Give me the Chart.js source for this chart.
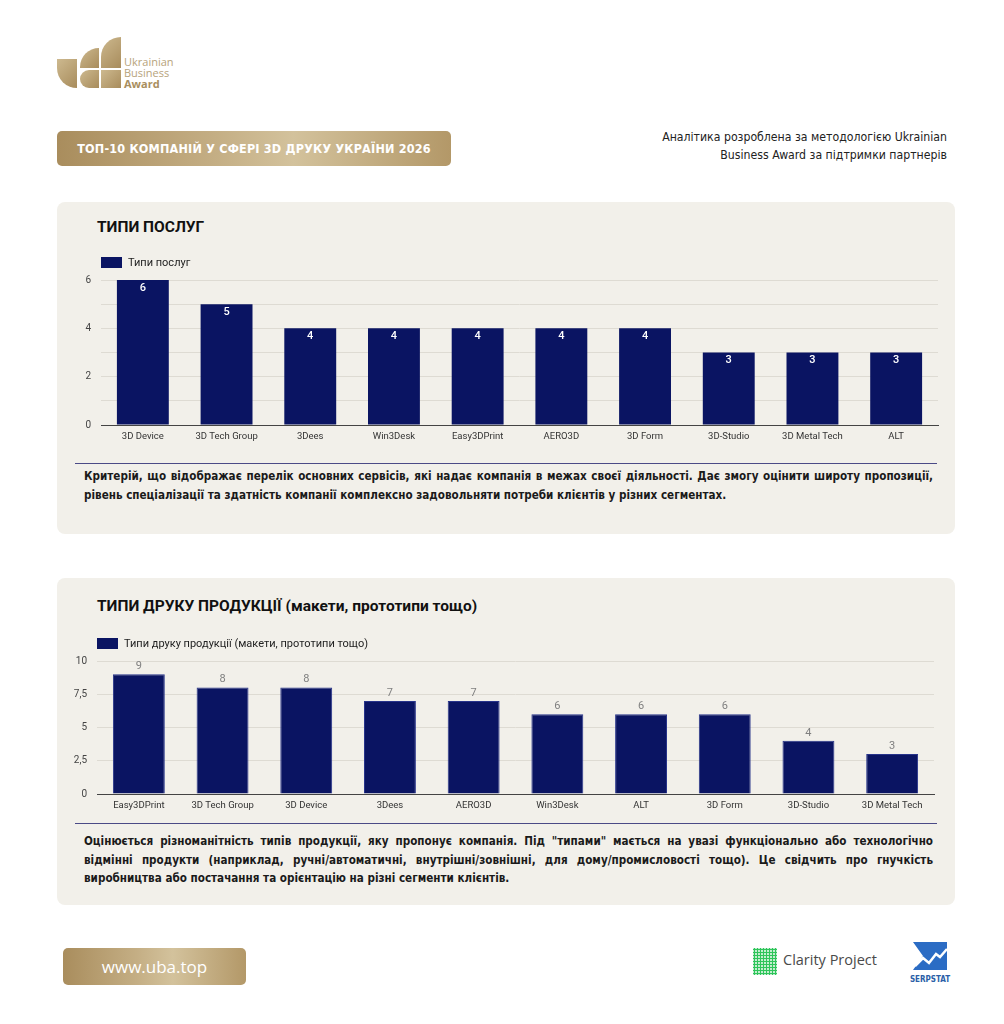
<!DOCTYPE html>
<html lang="uk">
<head>
<meta charset="utf-8">
<title>ТОП-10 компаній у сфері 3D друку України 2026</title>
<script src="https://cdn.jsdelivr.net/npm/chart.js@4.4.1/dist/chart.umd.min.js"></script>
<style>
  html, body { margin: 0; padding: 0; background: #fff; }
  body { width: 1004px; height: 1024px; position: relative; overflow: hidden; font-family: Roboto, "DejaVu Sans", sans-serif; }
  .abs { position: absolute; }
  .gold { background: linear-gradient(90deg, #a98d5d 0%, #c4ae84 40%, #d3c29c 60%, #b39868 100%); }
  .logo-piece { position: absolute; background: linear-gradient(135deg, #cdb98f, #a88c5c); }
  .logo-text { position: absolute; left: 124px; font-family: "Open Sans", sans-serif; font-size: 11px; color: #b7a37b; line-height: 11px; }
  .banner { left: 57px; top: 131px; width: 394px; height: 35px; border-radius: 5px; color: #fff;
            font-family: "DejaVu Sans Condensed", "DejaVu Sans", sans-serif; font-weight: bold; font-size: 12.5px;
            display: flex; align-items: center; justify-content: center; letter-spacing: 0.2px; }
  .note { right: 57px; top: 128px; text-align: right; font-family: "DejaVu Sans Condensed", "DejaVu Sans", sans-serif;
          font-size: 12.2px; line-height: 18px; color: #222; }
  .panel { left: 57px; width: 898px; background: #f2f0ea; border-radius: 8px; }
  .ptitle { font-family: Roboto, sans-serif; font-weight: bold; font-size: 15.5px; color: #111; }
  .rule { left: 75px; width: 862px; height: 0; border-top: 1.5px solid #4b4a86; }
  .desc { left: 84px; width: 849px; font-family: "DejaVu Sans Condensed", "DejaVu Sans", sans-serif; font-weight: bold;
          font-size: 11.6px; line-height: 18.5px; color: #1a1a1a; text-align: justify; }
  .url { left: 63px; top: 948px; width: 183px; height: 37px; border-radius: 5px; color: #fff; font-family: "Open Sans", sans-serif;
         font-size: 17px; display: flex; align-items: center; justify-content: center; }
</style>
</head>
<body>

<!-- logo -->
<div class="logo-piece" style="left:57px;top:59px;width:20px;height:29px;border-radius:0 0 0 20px;"></div>
<div class="logo-piece" style="left:80px;top:48px;width:19px;height:20px;border-radius:19px 0 0 0;"></div>
<div class="logo-piece" style="left:80px;top:70px;width:19px;height:18px;border-radius:9px 0 0 9px;"></div>
<div class="logo-piece" style="left:101px;top:37px;width:20px;height:31px;border-radius:20px 0 0 0;"></div>
<div class="logo-piece" style="left:101px;top:70px;width:20px;height:18px;"></div>
<div class="logo-text" style="top:56px;">Ukrainian</div>
<div class="logo-text" style="top:67px;">Business</div>
<div class="logo-text" style="top:78px;font-weight:bold;color:#a88e5e;">Award</div>

<div class="abs banner gold">ТОП-10 КОМПАНІЙ У СФЕРІ 3D ДРУКУ УКРАЇНИ 2026</div>
<div class="abs note">Аналітика розроблена за методологією Ukrainian<br>Business Award за підтримки партнерів</div>

<!-- panel 1 -->
<div class="abs panel" style="top:202px;height:332px;"></div>
<div class="abs ptitle" style="left:97px;top:218px;">ТИПИ ПОСЛУГ</div>
<div class="abs" style="left:70px;top:240px;width:875px;height:210px;"><canvas id="chartServices"></canvas></div>
<div class="abs rule" style="top:463px;"></div>
<div class="abs desc" style="top:467px;">Критерій, що відображає перелік основних сервісів, які надає компанія в межах своєї діяльності. Дає змогу оцінити широту пропозиції, рівень спеціалізації та здатність компанії комплексно задовольняти потреби клієнтів у різних сегментах.</div>

<!-- panel 2 -->
<div class="abs panel" style="top:578px;height:327px;"></div>
<div class="abs ptitle" style="left:97px;top:597px;">ТИПИ ДРУКУ ПРОДУКЦІЇ (макети, прототипи тощо)</div>
<div class="abs" style="left:60px;top:620px;width:880px;height:199px;"><canvas id="chartPrint"></canvas></div>
<div class="abs rule" style="top:823px;"></div>
<div class="abs desc" style="top:832px;">Оцінюється різноманітність типів продукції, яку пропонує компанія. Під "типами" мається на увазі функціонально або технологічно відмінні продукти (наприклад, ручні/автоматичні, внутрішні/зовнішні, для дому/промисловості тощо). Це свідчить про гнучкість виробництва або постачання та орієнтацію на різні сегменти клієнтів.</div>

<!-- footer -->
<div class="abs url gold">www.uba.top</div>
<div class="abs" style="left:753px;top:948px;width:24px;height:27px;
     background: radial-gradient(circle, #2ec55a 1.2px, transparent 1.5px) 0 0 / 3px 3px;"></div>
<div class="abs" style="left:783px;top:950px;font-family:'Open Sans',sans-serif;font-size:14.5px;color:#4a4a4a;">Clarity Project</div>
<svg class="abs" style="left:905px;top:940px;" width="50" height="46" viewBox="0 0 50 46">
  <polygon points="8,2 42,2 42,30 8,30 18,16" fill="#2b6cc4"/>
  <polyline points="10,26 18,18 24,23 31,14 35,17 42,9" fill="none" stroke="#fff" stroke-width="2.5"/>
  <text x="25" y="42" text-anchor="middle" font-family="DejaVu Sans Condensed, sans-serif" font-weight="bold" font-size="8" fill="#2b5fa8">SERPSTAT</text>
</svg>

<script>
// chart data
const servicesLabels = ['3D Device', '3D Tech Group', '3Dees', 'Win3Desk', 'Easy3DPrint', 'AERO3D', '3D Form', '3D-Studio', '3D Metal Tech', 'ALT'];
const servicesValues = [6, 5, 4, 4, 4, 4, 4, 3, 3, 3];
const servicesTicks = [0, 2, 4, 6];

const printLabels = ['Easy3DPrint', '3D Tech Group', '3D Device', '3Dees', 'AERO3D', 'Win3Desk', 'ALT', '3D Form', '3D-Studio', '3D Metal Tech'];
const printValues = [9, 8, 8, 7, 7, 6, 6, 6, 4, 3];

const barColor = '#0a1462';
const gridColor = '#dedbd3';

// small legend drawn above the plot, starting at the chart area's left edge
const legendPlugin = {
    id: 'boxLegend',
    afterDraw(chart) {
        const ctx = chart.ctx;
        const ds = chart.data.datasets[0];
        const x = chart.chartArea.left;
        const y = chart.chartArea.top - 23;
        ctx.save();
        ctx.fillStyle = ds.backgroundColor;
        ctx.fillRect(x, y, 21, 11);
        ctx.fillStyle = '#222';
        ctx.font = '11px Roboto';
        ctx.textBaseline = 'middle';
        ctx.fillText(ds.label, x + 27, y + 6);
        ctx.restore();
    }
};

// value labels, either inside the bar top or above it
const valuePlugin = {
    id: 'valueLabels',
    afterDatasetsDraw(chart, args, opts) {
        const ctx = chart.ctx;
        const meta = chart.getDatasetMeta(0);
        ctx.save();
        ctx.font = opts.font;
        ctx.fillStyle = opts.color;
        ctx.textAlign = 'center';
        ctx.textBaseline = 'middle';
        meta.data.forEach((bar, i) => {
            const v = chart.data.datasets[0].data[i];
            ctx.fillText(String(v), bar.x, bar.y + opts.offset);
        });
        ctx.restore();
    }
};

function makeChart(id, labels, values, name, opts) {
    return new Chart(document.getElementById(id), {
        type: 'bar',
        data: {
            labels: labels,
            datasets: [{
                label: name,
                data: values,
                backgroundColor: barColor,
                borderColor: opts.border,
                borderWidth: opts.borderWidth,
                categoryPercentage: 1,
                barPercentage: 0.62
            }]
        },
        options: {
            responsive: true,
            maintainAspectRatio: false,
            animation: false,
            layout: { padding: opts.padding },
            scales: {
                x: {
                    grid: { display: false, drawTicks: false },
                    border: { display: true, color: '#444', width: 1 },
                    ticks: { color: '#333', font: { family: 'Roboto', size: 9.5 }, padding: 6, maxRotation: 0, autoSkip: false },
                    afterFit: (s) => { s.height = 25; }
                },
                y: {
                    min: 0,
                    max: opts.max,
                    grid: { color: gridColor, drawTicks: false },
                    border: { display: false },
                    ticks: {
                        stepSize: opts.step,
                        color: '#444',
                        font: { family: 'Roboto', size: 10 },
                        padding: opts.tickPad,
                        callback: opts.tickCb
                    },
                    afterFit: (s) => { s.width = opts.axisWidth; }
                }
            },
            plugins: {
                legend: { display: false },
                tooltip: { enabled: false },
                valueLabels: opts.values
            }
        },
        plugins: [legendPlugin, valuePlugin]
    });
}

makeChart('chartServices', servicesLabels, servicesValues, 'Типи послуг', {
    padding: { top: 40, right: 7, left: 0, bottom: 0 },
    max: 6, step: 1, axisWidth: 31, tickPad: 10,
    border: barColor, borderWidth: 0,
    tickCb: (v) => servicesTicks.includes(v) ? String(v) : '',
    values: { font: '500 11px Roboto', color: '#fff', offset: 8 }
});

makeChart('chartPrint', printLabels, printValues, 'Типи друку продукції (макети, прототипи тощо)', {
    padding: { top: 41, right: 6, left: 0, bottom: 0 },
    max: 10, step: 2.5, axisWidth: 37, tickPad: 10,
    border: '#27338a', borderWidth: { top: 1, left: 1, right: 1, bottom: 0 },
    tickCb: (v) => String(v).replace('.', ','),
    values: { font: '11px Roboto', color: '#808080', offset: -8 }
});
</script>
</body>
</html>
